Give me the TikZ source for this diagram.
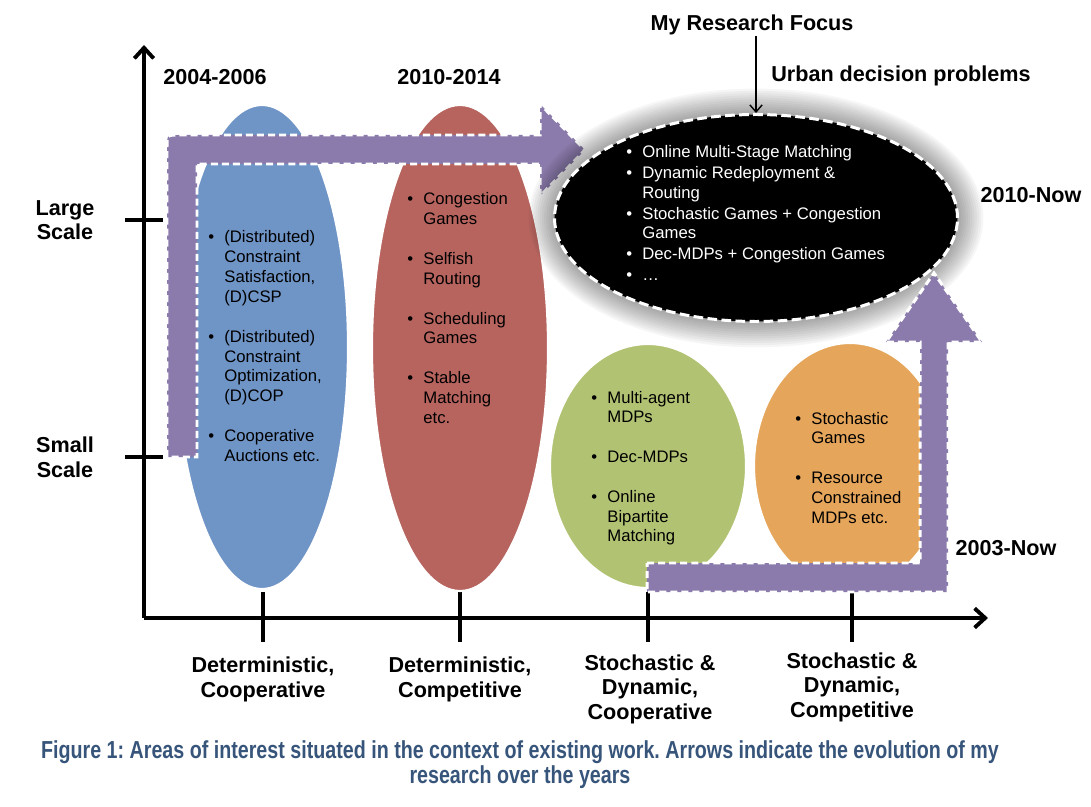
\documentclass[tikz,border=0pt]{standalone}
\usepackage{fontspec}
\setmainfont{Liberation Sans}
\newfontfamily\capfont[FakeStretch=0.8]{Liberation Sans}
\usetikzlibrary{shapes.geometric,arrows.meta}
\frenchspacing

\definecolor{detcoop}{RGB}{111,148,198}
\definecolor{detcomp}{RGB}{183,100,95}
\definecolor{stocoop}{RGB}{177,195,115}
\definecolor{stocomp}{RGB}{229,166,92}
\definecolor{flowpurple}{RGB}{139,123,172}
\definecolor{captionblue}{RGB}{55,85,122}

\newenvironment{bulletlist}{\begin{tabular}[t]{@{}l@{\hspace{5.8pt}}l@{}}}{\end{tabular}}

\begin{document}
\begin{tikzpicture}[x=0.02cm,y=-0.02cm]
    \tikzstyle{blob} = [ellipse, draw=white, line width=1.2pt, inner sep=0pt, outer sep=0pt]
    \tikzstyle{items} = [anchor=base west, inner sep=0pt, font=\fontsize{9.5}{11.3}\selectfont]
    \tikzstyle{axtext} = [inner sep=0pt, align=center, font=\bfseries\fontsize{12.3}{13.9}\selectfont]
    \tikzstyle{flow} = [fill=flowpurple, draw=white, line width=1.7pt, dash pattern=on 4pt off 2.3pt]
    \tikzstyle{axis} = [line width=2.2pt, -{Straight Barb[length=6pt,width=11pt]}]
    \tikzstyle{tick} = [line width=2.2pt]
    \tikzstyle{pointer} = [line width=0.8pt, -{Straight Barb[length=4pt,width=7pt]}]

    \useasboundingbox (0,0) rectangle (1091,807);

    % Axes
    \coordinate (origin) at (144,618);
    \coordinate (ytop) at (144,45);
    \coordinate (xend) at (988,618);
    \draw [axis] (origin) -- (ytop);
    \draw [axis] (origin) -- (xend);
    \draw [tick] (125,220) -- (163,220);
    \draw [tick] (125,457) -- (163,457);
    \foreach \tx in {263,460,648,852}
        \draw [tick] (\tx,592) -- (\tx,642);

    % Areas
    \node (dcoop) [blob, fill=detcoop, minimum width=172*0.02cm, minimum height=484*0.02cm] at (262,347) {};
    \node (dcomp) [blob, fill=detcomp, minimum width=176*0.02cm, minimum height=486*0.02cm] at (460,348) {};
    \node (scoop) [blob, fill=stocoop, minimum width=196*0.02cm, minimum height=244*0.02cm] at (648,466) {};
    \node (scomp) [blob, fill=stocomp, minimum width=192*0.02cm, minimum height=246*0.02cm] at (850,466) {};

    \node (dcooplist) [items] at (208,243) {\begin{bulletlist}
        \textbullet & (Distributed)\\
         & Constraint\\
         & Satisfaction,\\
         & (D)CSP\\[11.3pt]
        \textbullet & (Distributed)\\
         & Constraint\\
         & Optimization,\\
         & (D)COP\\[11.3pt]
        \textbullet & Cooperative\\
         & Auctions etc.
    \end{bulletlist}};
    \node (dcomplist) [items] at (407,205) {\begin{bulletlist}
        \textbullet & Congestion\\
         & Games\\[11.3pt]
        \textbullet & Selfish\\
         & Routing\\[11.3pt]
        \textbullet & Scheduling\\
         & Games\\[11.3pt]
        \textbullet & Stable\\
         & Matching\\
         & etc.
    \end{bulletlist}};
    \node (scooplist) [items] at (591,403) {\begin{bulletlist}
        \textbullet & Multi-agent\\
         & MDPs\\[11.3pt]
        \textbullet & Dec-MDPs\\[11.3pt]
        \textbullet & Online\\
         & Bipartite\\
         & Matching
    \end{bulletlist}};
    \node (scomplist) [items] at (795,424) {\begin{bulletlist}
        \textbullet & Stochastic\\
         & Games\\[11.3pt]
        \textbullet & Resource\\
         & Constrained\\
         & MDPs etc.
    \end{bulletlist}};

    % Evolution 2004 -> now
    \draw [flow] (167,457) -- (167,147) .. controls (167,135) .. (179,135) -- (540,135) -- (540,104)
        -- (585,150) -- (540,196) -- (540,164) -- (197,164) -- (197,457) -- cycle;

    % Research focus
    \coordinate (rf) at (756,218);
    \foreach \g in {1,...,12}
        \fill [black, opacity=0.035] (rf) ellipse [x radius={(201+2.2*\g)*0.02cm}, y radius={(103+2.2*\g)*0.02cm}];
    \node (urbanfocus) [ellipse, fill=black, draw=white, line width=1.7pt, dash pattern=on 5.5pt off 2.5pt,
        inner sep=0pt, minimum width=403*0.02cm, minimum height=207*0.02cm] at (rf) {};
    \node (urbanlist) [items, text=white, font=\fontsize{9.5}{11.06}\selectfont] at (626,158) {\begin{bulletlist}
        \textbullet & Online Multi-Stage Matching\\[0.85pt]
        \textbullet & Dynamic Redeployment \&\\
         & Routing\\[0.85pt]
        \textbullet & Stochastic Games + Congestion\\
         & Games\\[0.85pt]
        \textbullet & Dec-MDPs + Congestion Games\\[0.85pt]
        \textbullet & \ldots
    \end{bulletlist}};

    % Evolution 2003 -> now
    \draw [flow] (647,563) -- (920,563) -- (920,342) -- (886,342) -- (934,273) -- (982,342)
        -- (948,342) -- (948,592) -- (647,592) -- cycle;

    % Labels (base = last line)
    \node (large) [axtext, anchor=base] at (65,240) {Large\\Scale};
    \node (small) [axtext, anchor=base] at (65,477) {Small\\Scale};
    \node (y0406) [axtext, anchor=base] at (215,85) {2004-2006};
    \node (y1014) [axtext, anchor=base] at (449,85) {2010-2014};
    \node (focus) [axtext, anchor=base] at (752,31) {My Research Focus};
    \node (urban) [axtext, anchor=base] at (901,82) {Urban decision problems};
    \node (y10now) [axtext, anchor=base] at (1031,203) {2010-Now};
    \node (y03now) [axtext, anchor=base] at (1006,555) {2003-Now};
    \node (detcooplab) [axtext, anchor=base] at (263,697) {Deterministic,\\Cooperative};
    \node (detcomplab) [axtext, anchor=base] at (460,697) {Deterministic,\\Competitive};
    \node (stocooplab) [axtext, anchor=base] at (650,719) {Stochastic \&\\Dynamic,\\Cooperative};
    \node (stocomplab) [axtext, anchor=base] at (852,717) {Stochastic \&\\Dynamic,\\Competitive};

    % Arrows
    \draw [pointer] (focus.south -| urbanfocus.north) -- (urbanfocus.north);

    % Caption
    \node (caption) [align=center, text=captionblue, inner sep=0pt, anchor=base,
        font=\capfont\bfseries\fontsize{14}{14.2}\selectfont] at (520,783)
        {Figure 1: Areas of interest situated in the context of existing work. Arrows indicate the evolution of my\\research over the years};
\end{tikzpicture}
\end{document}
